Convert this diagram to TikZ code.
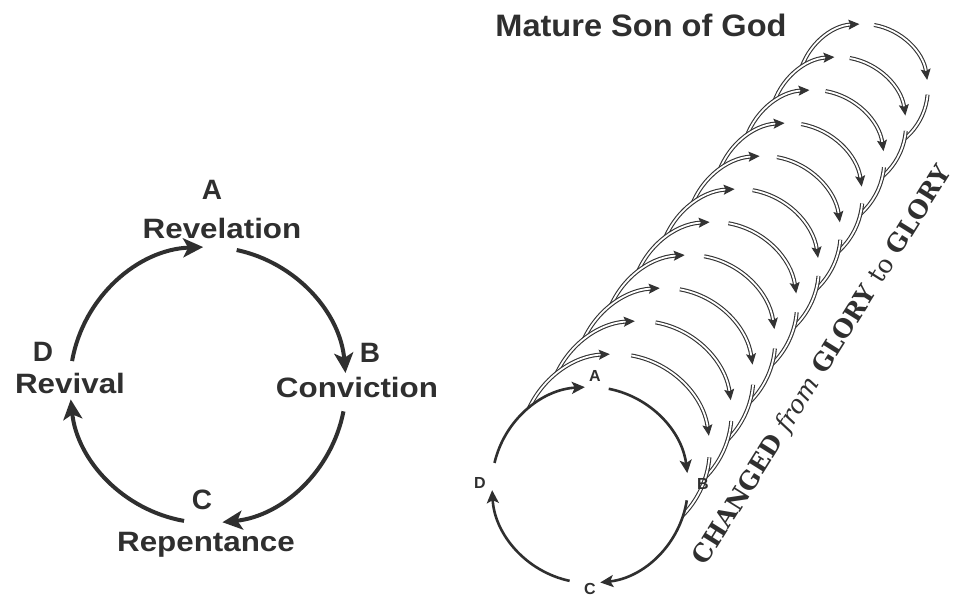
\documentclass[tikz,border=0pt]{standalone}
\usepackage{fontspec}
\setmainfont{Liberation Sans}
\newfontfamily\gloriafont{DejaVu Serif}
\usetikzlibrary{arrows.meta,calc}
\definecolor{inchiostro}{HTML}{2F2F2F}
\tikzset{
  freccia/.style={line width=4pt, draw=inchiostro, -{Stealth[length=20pt,width=19pt,inset=5pt]}},
  frecciina/.style={line width=2.6pt, draw=inchiostro, -{Stealth[length=13pt,width=12pt,inset=3pt]}},
  anello/.style={draw=black!80, line width=1.1pt, double=white, double distance=1.8pt},
  anellofreccia/.style={anello, -{Stealth[length=11pt,width=10pt,inset=2pt]}},
  lettera/.style={font=\fontsize{28}{30}\selectfont\bfseries, text=inchiostro, inner sep=0pt},
  fase/.style={lettera, xscale=1.12},
  letterina/.style={font=\fontsize{16}{18}\selectfont\bfseries, text=inchiostro, inner sep=0pt},
}
\begin{document}
\begin{tikzpicture}[x=1pt,y=1pt]
  \useasboundingbox (0,0) rectangle (960,603);

  % Ciclo singolo a sinistra
  \coordinate (lc) at (208,218);
  \node[lettera] (la) at (212,413) {A};
  \node[fase] (rev) at (222,375) {Revelation};
  \node[lettera] (lb) at (370,250) {B};
  \node[fase] (conv) at (357,216) {Conviction};
  \node[lettera] (lcc) at (202,103) {C};
  \node[fase] (rep) at (206,58) {Repentance};
  \node[lettera] (ld) at (43,251) {D};
  \node[fase] (riv) at (70,220) {Revival};
  \draw[freccia] (lc) ++(78:138) arc[start angle=78, end angle=5, radius=138];
  \draw[freccia] (lc) ++(-11:138) arc[start angle=-11, end angle=-84, radius=138];
  \draw[freccia] (lc) ++(-100:138) arc[start angle=-100, end angle=-174, radius=138];
  \draw[freccia] (lc) ++(170:138) arc[start angle=170, end angle=92, radius=138];

  % Titolo
  \node[lettera, font=\fontsize{31}{33}\selectfont\bfseries, xscale=1.05] (titolo) at (641,578) {Mature Son of God};

  % Pila di cicli, dal fondo in avanti
  \coordinate (rc) at (590,118);
  \foreach \i in {11,10,...,1}{
    \pgfmathsetmacro{\rr}{98-3*\i}
    \coordinate (c\i) at ($(rc)+(24.8*\i,36*\i)$);
    \fill[white] (c\i) circle[radius=\rr];
    \draw[anellofreccia] (c\i) ++(165:\rr) arc[start angle=165, end angle=93, radius=\rr];
    \draw[anellofreccia] (c\i) ++(80:\rr) arc[start angle=80, end angle=8, radius=\rr];
    \draw[anello] (c\i) ++(-5:\rr) arc[start angle=-5, end angle=-80, radius=\rr];
  }

  % Ciclo davanti
  \fill[white] (rc) circle[radius=98];
  \draw[frecciina] (rc) ++(167:98) arc[start angle=167, end angle=93, radius=98];
  \draw[frecciina] (rc) ++(79:98) arc[start angle=79, end angle=7, radius=98];
  \draw[frecciina] (rc) ++(-9:98) arc[start angle=-9, end angle=-84, radius=98];
  \draw[frecciina] (rc) ++(-102:98) arc[start angle=-102, end angle=-177, radius=98];
  \node[letterina] (ra) at (595,227) {A};
  \node[letterina] (rb) at (703,119) {B};
  \node[letterina] (rcc) at (590,14) {C};
  \node[letterina] (rd) at (480,120) {D};

  % Scritta obliqua
  \node[inner sep=0pt, text=inchiostro, rotate=58, font=\gloriafont\fontsize{25}{27}\selectfont\bfseries] (motto) at (823,237)
    {CHANGED {\mdseries\itshape from} GLORY {\mdseries to} GLORY};
\end{tikzpicture}
\end{document}
